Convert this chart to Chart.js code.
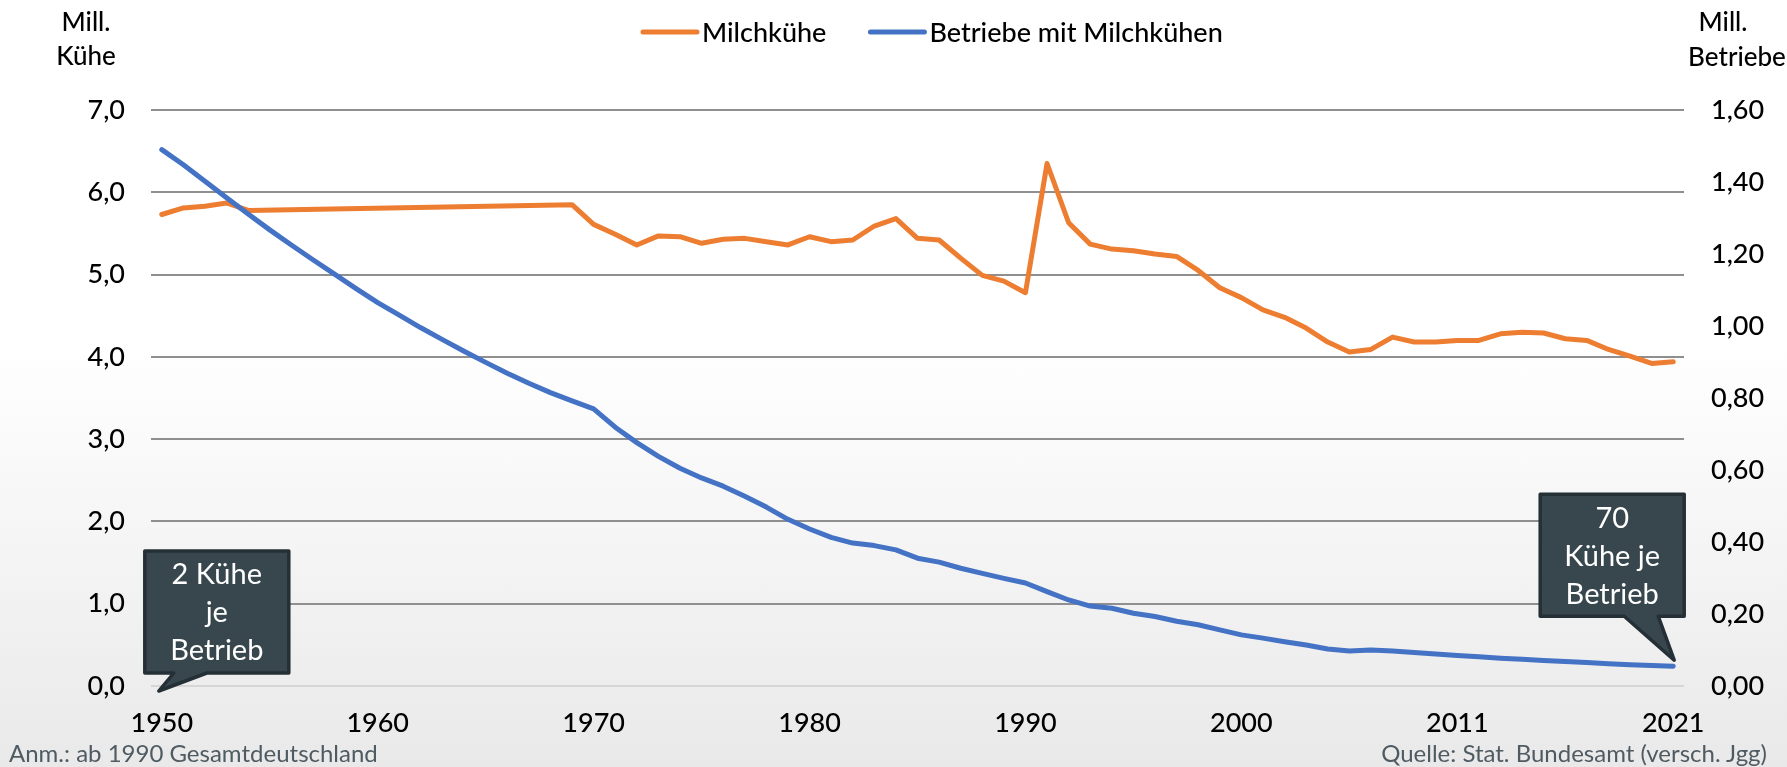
<!DOCTYPE html>
<html lang="de">
<head>
<meta charset="utf-8">
<title>Milchkühe und Betriebe mit Milchkühen</title>
<script src="https://cdn.jsdelivr.net/npm/chart.js@4.4.1/dist/chart.umd.min.js"></script>
<style>
  html, body { margin: 0; padding: 0; }
  body {
    width: 1787px; height: 767px; overflow: hidden; position: relative;
    background: linear-gradient(to bottom, #ffffff 0%, #ffffff 45%, #e9e9e9 100%);
    font-family: Lato, "Open Sans", sans-serif;
  }
  #chart { position: absolute; left: 0; top: 0; }
  .note { position: absolute; top: 739px; line-height: 28px; font-size: 24px; color: #4f5b62; }
  #anm { left: 9px; }
  #quelle { right: 20px; }
</style>
</head>
<body>
<canvas id="chart" width="1787" height="767"></canvas>
<div class="note" id="anm">Anm.: ab 1990 Gesamtdeutschland</div>
<div class="note" id="quelle">Quelle: Stat. Bundesamt (versch. Jgg)</div>

<script>
// years on the category axis (no separate value for 2010 in the source)
const years = [
  1950, 1951, 1952, 1953, 1954, 1955, 1956, 1957, 1958, 1959,
  1960, 1961, 1962, 1963, 1964, 1965, 1966, 1967, 1968, 1969,
  1970, 1971, 1972, 1973, 1974, 1975, 1976, 1977, 1978, 1979,
  1980, 1981, 1982, 1983, 1984, 1985, 1986, 1987, 1988, 1989,
  1990, 1991, 1992, 1993, 1994, 1995, 1996, 1997, 1998, 1999,
  2000, 2001, 2002, 2003, 2004, 2005, 2006, 2007, 2008, 2009,
  2011, 2012, 2013, 2014, 2015, 2016, 2017, 2018, 2019, 2020, 2021
];
const shownYears = [1950, 1960, 1970, 1980, 1990, 2000, 2011, 2021];

// Mill. Kühe (left axis); no points between 1955 and 1968, line is bridged
const cows = [
  5.73, 5.81, 5.83, 5.87, 5.78, null, null, null, null, null,
  null, null, null, null, null, null, null, null, null, 5.85,
  5.61, 5.49, 5.36, 5.47, 5.46, 5.38, 5.43, 5.44, 5.40, 5.36,
  5.46, 5.40, 5.42, 5.59, 5.68, 5.44, 5.42, 5.20, 4.99, 4.92,
  4.78, 6.35, 5.63, 5.37, 5.31, 5.29, 5.25, 5.22, 5.05, 4.84,
  4.72, 4.57, 4.48, 4.35, 4.18, 4.06, 4.09, 4.24, 4.18, 4.18,
  4.20, 4.20, 4.28, 4.30, 4.29, 4.22, 4.20, 4.09, 4.01, 3.92, 3.94
];

// Mill. Betriebe (right axis)
const farms = [
  1.490, 1.448, 1.402, 1.356, 1.311, 1.267, 1.225, 1.184, 1.144, 1.104,
  1.065, 1.030, 0.995, 0.962, 0.930, 0.899, 0.869, 0.841, 0.815, 0.792,
  0.770, 0.719, 0.676, 0.638, 0.605, 0.578, 0.555, 0.527, 0.497, 0.463,
  0.436, 0.413, 0.397, 0.390, 0.378, 0.355, 0.344, 0.327, 0.313, 0.299,
  0.286, 0.262, 0.239, 0.222, 0.216, 0.202, 0.193, 0.180, 0.170, 0.156,
  0.142, 0.133, 0.123, 0.114, 0.103, 0.097, 0.100, 0.097, 0.093, 0.089,
  0.085, 0.081, 0.077, 0.074, 0.071, 0.068, 0.065, 0.062, 0.059, 0.057, 0.055
];

const seriesNames = ['Milchkühe', 'Betriebe mit Milchkühen'];
const leftTitle = ['Mill.', 'Kühe'];
const rightTitle = ['Mill.', 'Betriebe'];
const note1950 = ['2 Kühe', 'je', 'Betrieb'];
const note2021 = ['70', 'Kühe je', 'Betrieb'];

const ORANGE = '#ed7d31';
const BLUE = '#4472c4';
const FONT = 'Lato, "Open Sans", sans-serif';

function comma(v, d) {
  return v.toFixed(d).replace('.', ',');
}

// legend, unit titles and the two speech-bubble notes
const extras = {
  id: 'extras',
  afterDraw(chart) {
    const ctx = chart.ctx;
    const xs = chart.scales.x;
    ctx.save();

    // legend
    ctx.font = '500 27px ' + FONT;
    ctx.textBaseline = 'middle';
    ctx.textAlign = 'left';
    let lx = 643;
    const ly = 32;
    chart.data.datasets.forEach((ds) => {
      ctx.strokeStyle = ds.borderColor;
      ctx.lineWidth = 5;
      ctx.lineCap = 'round';
      ctx.beginPath();
      ctx.moveTo(lx, ly);
      ctx.lineTo(lx + 54, ly);
      ctx.stroke();
      ctx.fillStyle = '#000';
      ctx.fillText(ds.label, lx + 59, ly + 1);
      lx += 59 + ctx.measureText(ds.label).width + 44;
    });

    // axis unit titles
    ctx.font = '500 26px ' + FONT;
    ctx.textAlign = 'center';
    ctx.fillText(leftTitle[0], 86, 23);
    ctx.fillText(leftTitle[1], 86, 57);
    ctx.fillText(rightTitle[0], 1723, 23);
    ctx.fillText(rightTitle[1], 1737, 58);

    // notes
    const bubble = (lines, bx, by, baseL, baseR, tipX, tipY) => {
      const w = 144, h = 122;
      ctx.beginPath();
      ctx.moveTo(bx, by);
      ctx.lineTo(bx + w, by);
      ctx.lineTo(bx + w, by + h);
      ctx.lineTo(baseR, by + h);
      ctx.lineTo(tipX, tipY);
      ctx.lineTo(baseL, by + h);
      ctx.lineTo(bx, by + h);
      ctx.closePath();
      ctx.lineJoin = 'round';
      ctx.fillStyle = '#38474e';
      ctx.fill();
      ctx.lineWidth = 3.5;
      ctx.strokeStyle = '#243035';
      ctx.stroke();
      ctx.fillStyle = '#ffffff';
      ctx.font = '29px ' + FONT;
      ctx.textAlign = 'center';
      ctx.textBaseline = 'middle';
      const cx = bx + w / 2, cy = by + h / 2;
      lines.forEach((t, k) => ctx.fillText(t, cx, cy + (k - 1) * 38 + 1));
    };

    const a1x = xs.getPixelForValue(0);
    const a1y = chart.scales.yCows.getPixelForValue(0);
    bubble(note1950, a1x - 17, a1y - 135, a1x + 12, a1x + 45, a1x - 3, a1y + 5);

    const last = farms.length - 1;
    const a2x = xs.getPixelForValue(last);
    const a2y = chart.scales.yFarms.getPixelForValue(farms[last]);
    bubble(note2021, a2x - 133, a2y - 172, a2x - 49, a2x - 15, a2x + 1, a2y - 6);

    ctx.restore();
  }
};

const tickFont = { family: FONT, size: 27, weight: 500 };

new Chart(document.getElementById('chart'), {
  type: 'line',
  data: {
    labels: years,
    datasets: [
      {
        label: seriesNames[0],
        data: cows,
        yAxisID: 'yCows',
        borderColor: ORANGE,
        backgroundColor: ORANGE,
        borderWidth: 5,
        pointRadius: 0,
        spanGaps: true,
        borderJoinStyle: 'round',
        borderCapStyle: 'round',
        order: 1
      },
      {
        label: seriesNames[1],
        data: farms,
        yAxisID: 'yFarms',
        borderColor: BLUE,
        backgroundColor: BLUE,
        borderWidth: 5,
        pointRadius: 0,
        borderJoinStyle: 'round',
        borderCapStyle: 'round',
        order: 0
      }
    ]
  },
  options: {
    responsive: false,
    animation: false,
    layout: { padding: { top: 110, right: 0, bottom: 0, left: 0 } },
    plugins: {
      legend: { display: false },
      tooltip: { enabled: false }
    },
    scales: {
      x: {
        offset: true,
        grid: { display: false, drawTicks: false },
        border: { display: false },
        ticks: {
          autoSkip: false,
          maxRotation: 0,
          padding: 21,
          color: '#000',
          font: tickFont,
          callback(v, i) {
            return shownYears.includes(years[i]) ? String(years[i]) : '';
          }
        },
        afterFit(s) { s.height = 81; }
      },
      yCows: {
        position: 'left',
        min: 0,
        max: 7,
        grid: {
          drawTicks: false,
          lineWidth: 2,
          color: (c) => (c.tick && c.tick.value === 0 ? '#d6d6d6' : '#8f8f8f')
        },
        border: { display: false },
        ticks: {
          stepSize: 1,
          padding: 26,
          color: '#000',
          font: tickFont,
          callback: (v) => comma(v, 1)
        },
        afterFit(s) { s.width = 151; }
      },
      yFarms: {
        position: 'right',
        min: 0,
        max: 1.6,
        grid: { display: false, drawTicks: false },
        border: { display: false },
        ticks: {
          stepSize: 0.2,
          padding: 27,
          color: '#000',
          font: tickFont,
          callback: (v) => comma(v, 2)
        },
        afterFit(s) { s.width = 103; }
      }
    }
  },
  plugins: [extras]
});
</script>
</body>
</html>
